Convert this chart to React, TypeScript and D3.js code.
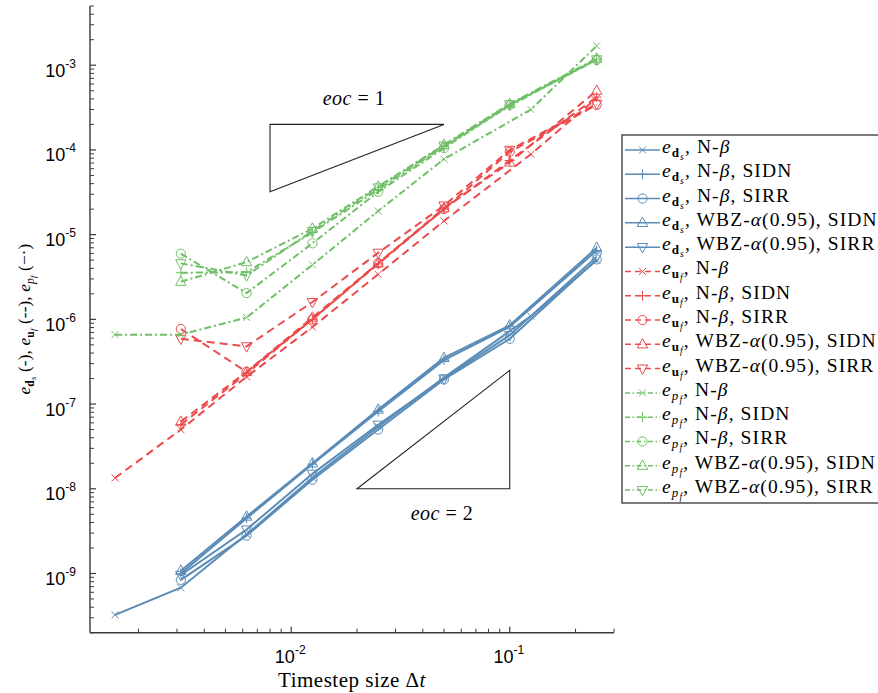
import React from 'react';
import * as d3 from 'd3';

// ---- data ----
const dtNB = [0.0015625, 0.003125, 0.00625, 0.0125, 0.025, 0.05, 0.125, 0.25];
const dtSI = [0.003125, 0.00625, 0.0125, 0.025, 0.05, 0.1, 0.25];

const eDs_NB = [3.25e-10, 6.8e-10, 2.9e-9, 1.35e-8, 5.4e-8, 2.05e-7, 1.09e-6, 5.0e-6];
const eDs_NB_SIDN = [1.0e-9, 4.5e-9, 1.95e-8, 8.2e-8, 3.3e-7, 8.2e-7, 6.5e-6];
const eDs_NB_SIRR = [8.4e-10, 2.8e-9, 1.28e-8, 5.0e-8, 1.95e-7, 5.9e-7, 5.1e-6];
const eDs_WBZ_SIDN = [1.08e-9, 4.7e-9, 2.0e-8, 8.6e-8, 3.5e-7, 8.5e-7, 7.0e-6];
const eDs_WBZ_SIRR = [9.6e-10, 3.3e-9, 1.5e-8, 5.7e-8, 2.0e-7, 6.5e-7, 5.5e-6];

const eUf_NB = [1.34e-8, 5.0e-8, 2.1e-7, 8.1e-7, 3.4e-6, 1.45e-5, 8.9e-5, 4.1e-4];
const eUf_NB_SIDN = [5.7e-8, 2.3e-7, 1.0e-6, 4.5e-6, 2.0e-5, 7.5e-5, 4.2e-4];
const eUf_NB_SIRR = [7.7e-7, 2.4e-7, 1.0e-6, 4.6e-6, 2.0e-5, 9.5e-5, 3.4e-4];
const eUf_WBZ_SIDN = [6.2e-8, 2.4e-7, 1.05e-6, 4.6e-6, 2.05e-5, 7.1e-5, 5.0e-4];
const eUf_WBZ_SIRR = [5.9e-7, 4.8e-7, 1.6e-6, 6.1e-6, 2.2e-5, 1.0e-4, 3.5e-4];

const ePf_NB = [6.6e-7, 6.6e-7, 1.05e-6, 4.4e-6, 1.9e-5, 7.8e-5, 3.0e-4, 1.69e-3];
const ePf_NB_SIDN = [3.55e-6, 3.6e-6, 1.06e-5, 3.4e-5, 1.1e-4, 3.3e-4, 1.18e-3];
const ePf_NB_SIRR = [5.96e-6, 2.04e-6, 7.9e-6, 3.2e-5, 1.05e-4, 3.4e-4, 1.15e-3];
const ePf_WBZ_SIDN = [2.78e-6, 4.74e-6, 1.18e-5, 3.7e-5, 1.15e-4, 3.5e-4, 1.2e-3];
const ePf_WBZ_SIRR = [4.58e-6, 3.3e-6, 1.1e-5, 3.6e-5, 1.12e-4, 3.45e-4, 1.17e-3];

const methodNames = ['N-β', 'N-β, SIDN', 'N-β, SIRR', 'WBZ-α(0.95), SIDN', 'WBZ-α(0.95), SIRR'];
const quantities = ['ds', 'uf', 'pf'];

const yTickValues = [1e-9, 1e-8, 1e-7, 1e-6, 1e-5, 1e-4, 1e-3];
const yTickExps = ['-9', '-8', '-7', '-6', '-5', '-4', '-3'];
const xTickValues = [1e-2, 1e-1];
const xTickExps = ['-2', '-1'];

const eoc1Tri = [[0.008, 3.2e-5], [0.05, 2e-4], [0.008, 2e-4]];
const eoc2Tri = [[0.02, 1e-8], [0.1, 1e-8], [0.1, 2.5e-7]];
const eocLabels = ['1', '2'];

const xDomain = [0.0012, 0.3];
const yDomain = [2e-10, 5e-3];

// ---- styles ----
const COLORS = ['#5a8cb8', '#eb4b4c', '#70bf67'];
const DASHES = [undefined, '8,5', '7,3,2,3'];
const MARKERS = ['x', '+', 'o', '^', 'v'];

const W = 878, H = 693;
const x = d3.scaleLog().domain(xDomain).range([90, 614]);
const y = d3.scaleLog().domain(yDomain).range([632.7, 6]);

const SERIF = 'Liberation Serif';
const SANS = 'Liberation Sans';

type Seg = { t: string; f?: 'i' | 'b' | 'r'; s?: number; sh?: number };

function Rich({ segs, size, anchor, x: tx, y: ty, transform, ls }: any) {
  let prev = 0;
  return (
    <text x={tx} y={ty} fontFamily={SERIF} fontSize={size} textAnchor={anchor} transform={transform} fill="#000" letterSpacing={ls || 0}>
      {segs.map((g: Seg, i: number) => {
        const sh = g.sh || 0;
        const dy = sh - prev;
        prev = sh;
        return (
          <tspan key={i} dy={dy} fontFamily={SERIF} fontStyle={g.f === 'i' ? 'italic' : 'normal'} fontWeight={g.f === 'b' ? 'bold' : 'normal'} fontSize={g.s || size} style={{ whiteSpace: 'pre' }}>
            {g.t}
          </tspan>
        );
      })}
    </text>
  );
}

function quantSegs(q: string, k = 1): Seg[] {
  const sub = q[0];
  const subsub = q[1];
  return [
    { t: 'e', f: 'i' },
    { t: sub, f: sub === 'p' ? 'i' : 'b', s: 13 * k, sh: 4 * k },
    { t: subsub, f: 'i', s: 9.5 * k, sh: 7 * k },
  ];
}

function methodSegs(m: string): Seg[] {
  const out: Seg[] = [];
  let buf = '';
  for (const ch of m) {
    if (ch === 'β' || ch === 'α') {
      if (buf) out.push({ t: buf });
      buf = '';
      out.push({ t: ch, f: 'i' });
    } else buf += ch;
  }
  if (buf) out.push({ t: buf });
  return out;
}

function Marker({ type, cx, cy, color }: any) {
  const sw = 1;
  if (type === 'x') {
    const d = 3.5;
    return <path d={`M${cx - d},${cy - d}L${cx + d},${cy + d}M${cx - d},${cy + d}L${cx + d},${cy - d}`} stroke={color} strokeWidth={sw} fill="none" />;
  }
  if (type === '+') {
    const d = 5;
    return <path d={`M${cx - d},${cy}L${cx + d},${cy}M${cx},${cy - d}L${cx},${cy + d}`} stroke={color} strokeWidth={sw} fill="none" />;
  }
  if (type === 'o') return <circle cx={cx} cy={cy} r={4.6} stroke={color} strokeWidth={sw} fill="none" />;
  if (type === '^')
    return <path d={`M${cx},${cy - 5.8}L${cx + 5.2},${cy + 3.6}L${cx - 5.2},${cy + 3.6}Z`} stroke={color} strokeWidth={sw} fill="none" />;
  return <path d={`M${cx},${cy + 5.8}L${cx + 5.2},${cy - 3.6}L${cx - 5.2},${cy - 3.6}Z`} stroke={color} strokeWidth={sw} fill="none" />;
}

export default function App() {
  const groups = [
    [eDs_NB, eDs_NB_SIDN, eDs_NB_SIRR, eDs_WBZ_SIDN, eDs_WBZ_SIRR],
    [eUf_NB, eUf_NB_SIDN, eUf_NB_SIRR, eUf_WBZ_SIDN, eUf_WBZ_SIRR],
    [ePf_NB, ePf_NB_SIDN, ePf_NB_SIRR, ePf_WBZ_SIDN, ePf_WBZ_SIRR],
  ];
  const series: any[] = [];
  groups.forEach((g, gi) =>
    g.forEach((vals, mi) => {
      const dts = mi === 0 ? dtNB : dtSI;
      series.push({
        pts: vals.map((v, i) => [dts[i], v]),
        color: COLORS[gi],
        dash: DASHES[gi],
        marker: MARKERS[mi],
        q: quantities[gi],
        m: methodNames[mi],
      });
    })
  );
  const line = d3.line<any>().x((d) => x(d[0])).y((d) => y(d[1]));

  const yMinor: number[] = [];
  for (let e = -10; e <= -3; e++) for (let k = 2; k <= 9; k++) {
    const v = k * Math.pow(10, e);
    if (v >= yDomain[0] && v <= yDomain[1]) yMinor.push(v);
  }
  const xMinor: number[] = [];
  for (let e = -3; e <= -1; e++) for (let k = 2; k <= 9; k++) {
    const v = k * Math.pow(10, e);
    if (v >= xDomain[0] && v <= xDomain[1] * 1.0001) xMinor.push(v);
  }
  const axisColor = '#3a3a3a';
  const x0 = 90, yb = 632.7;

  const legTop = 150, legStep = 24.29;
  const yk = 17 / 19;

  return (
    <svg width={W} height={H} style={{ position: 'absolute', left: 0, top: 0, background: '#fff' }}>
      <rect x={0} y={0} width={W} height={H} fill="#fff" />
      <path d={line(eoc1Tri as any) + 'Z'} fill="none" stroke="#222" strokeWidth={1.1} />
      <path d={line(eoc2Tri as any) + 'Z'} fill="none" stroke="#222" strokeWidth={1.1} />
      <Rich x={354} y={105} size={20} ls={0.5} anchor="middle" segs={[{ t: 'eoc', f: 'i' }, { t: ' = ' + eocLabels[0] }]} />
      <Rich x={442} y={520} size={20} ls={0.5} anchor="middle" segs={[{ t: 'eoc', f: 'i' }, { t: ' = ' + eocLabels[1] }]} />

      {series.map((s, i) => (
        <g key={i}>
          <path d={line(s.pts) as string} fill="none" stroke={s.color} strokeWidth={2} strokeDasharray={s.dash} />
          {s.pts.map((p: any, j: number) => (
            <Marker key={j} type={s.marker} cx={x(p[0])} cy={y(p[1])} color={s.color} />
          ))}
        </g>
      ))}

      <line x1={x0} x2={x0} y1={6} y2={yb} stroke={axisColor} strokeWidth={1.4} />
      <line x1={x0} x2={614} y1={yb} y2={yb} stroke={axisColor} strokeWidth={1.4} />
      {yTickValues.map((v, i) => (
        <g key={'yt' + i}>
          <line x1={x0} x2={x0 + 6} y1={y(v)} y2={y(v)} stroke={axisColor} strokeWidth={1.2} />
          <text x={76} y={y(v) + 11.5} fontFamily={SANS} fontSize={18} textAnchor="end" fill="#000">
            <tspan>10</tspan>
            <tspan fontSize={12} dy={-9}>{yTickExps[i]}</tspan>
          </text>
        </g>
      ))}
      {yMinor.map((v, i) => (
        <line key={'ym' + i} x1={x0} x2={x0 + 4} y1={y(v)} y2={y(v)} stroke={axisColor} strokeWidth={1} />
      ))}
      {xTickValues.map((v, i) => (
        <g key={'xt' + i}>
          <line x1={x(v)} x2={x(v)} y1={yb} y2={yb - 6} stroke={axisColor} strokeWidth={1.2} />
          <text x={x(v) - 1} y={663} fontFamily={SANS} fontSize={18} textAnchor="middle" fill="#000">
            <tspan>10</tspan>
            <tspan fontSize={12} dy={-9}>{xTickExps[i]}</tspan>
          </text>
        </g>
      ))}
      {xMinor.map((v, i) => (
        <line key={'xm' + i} x1={x(v)} x2={x(v)} y1={yb} y2={yb - 4} stroke={axisColor} strokeWidth={1} />
      ))}

      <Rich x={352} y={687} size={21} ls={0.5} anchor="middle" segs={[{ t: 'Timestep size Δ' }, { t: 't', f: 'i' }]} />
      <Rich
        x={0}
        y={0}
        size={17}
        ls={0.2}
        anchor="middle"
        transform={`translate(30,319) rotate(-90)`}
        segs={[
          ...quantSegs('ds', yk),
          { t: ' (-), ' },
          ...quantSegs('uf', yk),
          { t: ' (--), ' },
          ...quantSegs('pf', yk),
          { t: ' (−·)' },
        ]}
      />

      <rect x={622} y={135} width={270} height={368} fill="#fff" stroke="#333" strokeWidth={1.3} />
      {series.map((s, i) => {
        const ly = legTop + i * legStep;
        return (
          <g key={'lg' + i}>
            <line x1={625} x2={660} y1={ly} y2={ly} stroke={s.color} strokeWidth={1.5} strokeDasharray={s.dash ? (s.dash === '8,5' ? '6,4' : '5,2.5,1.5,2.5') : undefined} />
            <Marker type={s.marker} cx={642.5} cy={ly} color={s.color} />
            <Rich x={662} y={ly + 3} size={19.5} ls={1.1} anchor="start" segs={[...quantSegs(s.q), { t: ', ', sh: 0 }, ...methodSegs(s.m)]} />
          </g>
        );
      })}
    </svg>
  );
}
